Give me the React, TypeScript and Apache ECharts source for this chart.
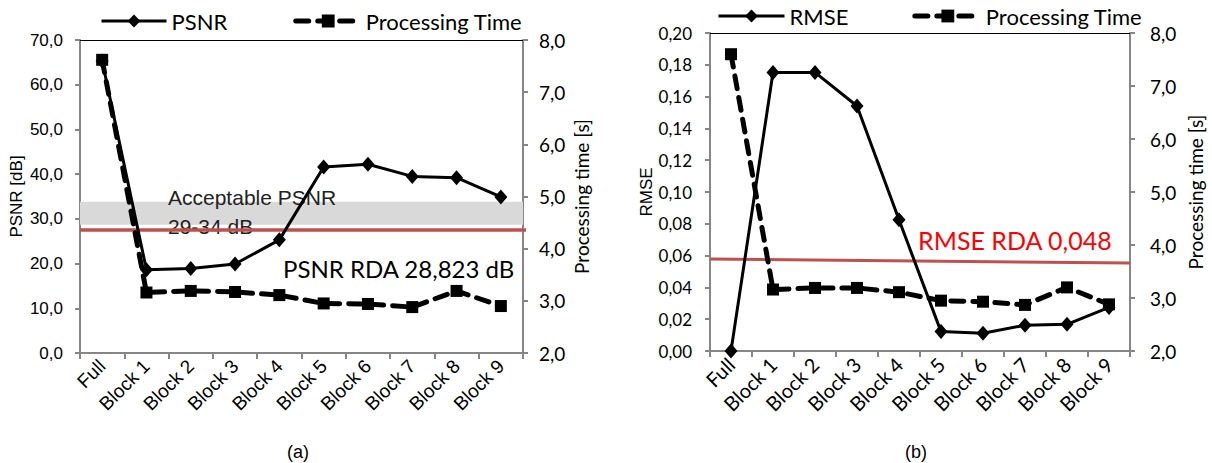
import React, { useEffect, useRef } from "react";
import * as echarts from "echarts";

const categories = ["Full", "Block 1", "Block 2", "Block 3", "Block 4", "Block 5", "Block 6", "Block 7", "Block 8", "Block 9"];
const psnr = [65.3, 18.6, 18.9, 19.9, 25.3, 41.6, 42.2, 39.5, 39.2, 34.9];
const timeA = [7.62, 3.16, 3.19, 3.17, 3.11, 2.95, 2.94, 2.88, 3.19, 2.9];
const rmse = [0.0, 0.1752, 0.1752, 0.1541, 0.0825, 0.0122, 0.0112, 0.0162, 0.0168, 0.0274];
const timeB = [7.6, 3.16, 3.19, 3.19, 3.11, 2.95, 2.93, 2.87, 3.2, 2.88];

const acceptableBand = [28.7, 33.8];
const psnrRdaLine = 27.5;
const rmseRdaLine = [0.0578, 0.0553];

const leftTicksA = { min: 0, max: 70, interval: 10 };
const leftTicksB = { min: 0, max: 0.2, interval: 0.02 };
const timeTicks = { min: 2, max: 8, interval: 1 };

const AX = "#868686";
const ARIAL = "Liberation Sans";
const CAL = "Lato";
const DASH = [13, 9];

function catAxis(gridIndex: number, font: string, size: number) {
  return {
    gridIndex,
    type: "category",
    data: categories,
    boundaryGap: true,
    axisLine: { show: true, onZero: false, lineStyle: { color: AX, width: 2 } },
    axisTick: { show: true, length: 6, lineStyle: { color: AX, width: 2 } },
    axisLabel: { rotate: 45, interval: 0, margin: 10, fontFamily: font, fontSize: size, color: "#000" },
    splitLine: { show: false },
  };
}

function topAxis(gridIndex: number) {
  return {
    gridIndex,
    type: "value",
    position: "top",
    min: 0,
    max: 10,
    axisLine: { show: true, onZero: false, lineStyle: { color: "#000", width: 1 } },
    axisTick: { show: false },
    axisLabel: { show: false },
    splitLine: { show: false },
  };
}

function valAxis(
  gridIndex: number,
  ticks: { min: number; max: number; interval: number },
  position: string,
  name: string,
  nameGap: number,
  nameFont: string,
  nameSize: number,
  labelFont: string,
  labelSize: number,
  digits: number,
  margin: number
) {
  return {
    gridIndex,
    type: "value",
    position,
    min: ticks.min,
    max: ticks.max,
    interval: ticks.interval,
    name,
    nameLocation: "middle",
    nameGap,
    nameTextStyle: { fontFamily: nameFont, fontSize: nameSize, color: "#000" },
    axisLine: { show: true, lineStyle: { color: AX, width: 2 } },
    axisTick: { show: true, length: 5, lineStyle: { color: AX, width: 2 } },
    axisLabel: {
      margin,
      fontFamily: labelFont,
      fontSize: labelSize,
      color: "#000",
      formatter: (v: number) => v.toFixed(digits).replace(".", ","),
    },
    splitLine: { show: false },
  };
}

const solid = (name: string, data: number[], xi: number, yi: number) => ({
  name,
  type: "line",
  xAxisIndex: xi,
  yAxisIndex: yi,
  data,
  symbol: "diamond",
  symbolSize: [13, 15],
  lineStyle: { color: "#000", width: 3 },
  itemStyle: { color: "#000" },
  z: 6,
});

const dashed = (name: string, data: number[], xi: number, yi: number) => ({
  name,
  type: "line",
  xAxisIndex: xi,
  yAxisIndex: yi,
  data,
  symbol: "rect",
  symbolSize: 12,
  lineStyle: { color: "#000", width: 5, type: DASH, cap: "round" },
  itemStyle: { color: "#000" },
  z: 5,
});

const txt = (text: string, x: number, y: number, font: string, fill: string, align = "left", z = 2) => ({
  type: "text",
  x,
  y,
  z,
  silent: true,
  style: { text, font, fill, align, verticalAlign: "middle", textAlign: align, textVerticalAlign: "middle" },
});

const legendData = (first: string) => [
  { name: first, lineStyle: { width: 3, color: "#000" } },
  { name: "Processing Time", lineStyle: { width: 5, color: "#000", type: DASH, cap: "round" } },
];

export default function App() {
  const ref = useRef<HTMLDivElement>(null);
  useEffect(() => {
    if (!ref.current) return;
    const chart = echarts.init(ref.current, null, { renderer: "svg" });
    const option: any = {
      animation: false,
      backgroundColor: "#fff",
      textStyle: { fontFamily: ARIAL },
      grid: [
        { left: 80, top: 40, width: 443, height: 313 },
        { left: 710, top: 33, width: 420, height: 318 },
      ],
      legend: [
        {
          left: 95,
          top: 5,
          itemWidth: 65,
          itemHeight: 16,
          itemGap: 66,
          data: legendData("PSNR"),
          textStyle: { fontFamily: CAL, fontSize: 22, color: "#000" },
        },
        {
          left: 712,
          top: 0,
          itemWidth: 66,
          itemHeight: 16,
          itemGap: 64,
          data: legendData("RMSE"),
          textStyle: { fontFamily: CAL, fontSize: 22, color: "#000" },
        },
      ],
      xAxis: [catAxis(0, ARIAL, 19), catAxis(1, CAL, 20), topAxis(0), topAxis(1)],
      yAxis: [
        valAxis(0, leftTicksA, "left", "PSNR [dB]", 55, ARIAL, 17, ARIAL, 17, 1, 17),
        valAxis(0, timeTicks, "right", "Processing time [s]", 49, CAL, 19, CAL, 19, 1, 16),
        valAxis(1, leftTicksB, "left", "RMSE", 52, ARIAL, 17, CAL, 17, 2, 18),
        valAxis(1, timeTicks, "right", "Processing time [s]", 56, CAL, 19, CAL, 19, 1, 20),
      ],
      series: [
        {
          type: "line",
          xAxisIndex: 2,
          yAxisIndex: 0,
          data: [],
          silent: true,
          markArea: {
            silent: true,
            itemStyle: { color: "#d9d9d9" },
            data: [[{ coord: [0, acceptableBand[0]] }, { coord: [10.15, acceptableBand[1]] }]],
          },
          z: 1,
        },
        {
          type: "line",
          xAxisIndex: 2,
          yAxisIndex: 0,
          data: [
            [0, psnrRdaLine],
            [10.15, psnrRdaLine],
          ],
          symbol: "none",
          clip: false,
          silent: true,
          lineStyle: { color: "#c0504d", width: 3.5 },
          z: 3,
        },
        solid("PSNR", psnr, 0, 0),
        dashed("Processing Time", timeA, 0, 1),
        {
          type: "line",
          xAxisIndex: 3,
          yAxisIndex: 2,
          data: [
            [0, rmseRdaLine[0]],
            [10, rmseRdaLine[1]],
          ],
          symbol: "none",
          clip: false,
          silent: true,
          lineStyle: { color: "#c0504d", width: 3 },
          z: 3,
        },
        solid("RMSE", rmse, 1, 2),
        dashed("Processing Time", timeB, 1, 3),
      ],
      graphic: [
        txt("Acceptable PSNR", 168, 197, `21px "${ARIAL}"`, "#222"),
        txt("29-34 dB", 168, 226, `21px "${ARIAL}"`, "#222"),
        txt("PSNR RDA 28,823 dB", 283, 268, `24px ${CAL}`, "#000", "left", 7),
        txt("RMSE RDA 0,048", 918, 240, `25px ${CAL}`, "#ff0000", "left", 7),
        txt("(a)", 298, 452, `18px "${ARIAL}"`, "#000", "center", 7),
        txt("(b)", 916, 452, `18px "${ARIAL}"`, "#000", "center", 7),
      ],
    };
    chart.setOption(option);
    return () => chart.dispose();
  }, []);
  return <div ref={ref} style={{ position: "fixed", left: 0, top: 0, width: 1212, height: 463 }} />;
}
